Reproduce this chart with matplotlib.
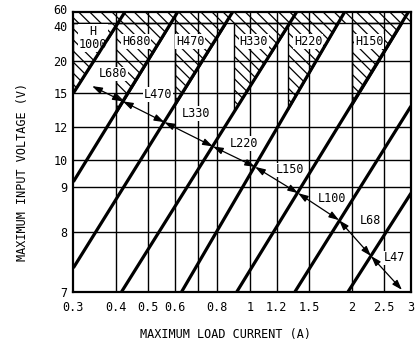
import matplotlib
matplotlib.use("Agg")
import matplotlib.pyplot as plt
import numpy as np
from matplotlib.ticker import FixedLocator, FixedFormatter, NullLocator

# graduated input-voltage scale (tick value -> fraction of axis height)
VIN_TICKS = [7, 8, 9, 10, 12, 15, 20, 40, 60]
VIN_TICK_POS = [0.0, 0.212, 0.373, 0.470, 0.589, 0.709, 0.824, 0.961, 1.0]

I_TICKS = [0.3, 0.4, 0.5, 0.6, 0.8, 1, 1.2, 1.5, 2, 2.5, 3]
I_TICK_LABELS = ["0.3", "0.4", "0.5", "0.6", "0.8", "1", "1.2", "1.5", "2", "2.5", "3"]
I_GRID = [0.4, 0.5, 0.6, 0.7, 0.8, 1, 1.2, 1.5, 2, 2.5]

# inductor region boundaries (current in A, voltage in V)
BOUND_START_I = [0.30, 0.30, 0.30, 0.417, 0.628, 0.915, 1.36, 1.953]
BOUND_START_V = [15.0, 9.2, 7.4, 7, 7, 7, 7, 7]
BOUND_END_I = [0.427, 0.612, 0.89, 1.377, 1.91, 2.95, 3.0, 3.0]
BOUND_END_V = [60, 60, 60, 60, 60, 60, 13.85, 8.87]

# high-current (hatched) regions
H_LABELS = ["H\n1000", "H680", "H470", "H330", "H220", "H150"]
H_LEFT_I = [0.3, 0.4, 0.6, 0.9, 1.3, 2.0]
H_LABEL_I = [0.343, 0.460, 0.665, 1.028, 1.486, 2.253]
H_LABEL_V = [32, 30, 30, 30, 30, 30]
H_BAND = (40, 60)

L_LABELS = ["L680", "L470", "L330", "L220", "L150", "L100", "L68", "L47"]
L_LABEL_I = [0.393, 0.534, 0.692, 0.961, 1.315, 1.751, 2.268, 2.672]
L_LABEL_V = [18.0, 14.9, 13.2, 11.0, 9.64, 8.76, 8.27, 7.57]

# double arrows between neighbouring boundaries
ARROW_I = [0.341, 0.4205, 0.558, 0.777, 1.036, 1.388, 1.836, 2.284, 2.82]
ARROW_V = [16.1, 14.27, 12.41, 10.82, 9.75, 8.87, 8.27, 7.60, 7.03]

FONT = "DejaVu Sans Mono"

_pos_ext = np.r_[-1.0, VIN_TICK_POS, 2.0]
_v_ext = np.r_[1.0, VIN_TICKS, 1000.0]


def vin_fwd(v):
    return np.interp(v, _v_ext, _pos_ext)


def vin_inv(p):
    return np.interp(p, _pos_ext, _v_ext)


def _seg(k):
    u0, u1 = np.log10(BOUND_START_I[k]), np.log10(BOUND_END_I[k])
    w0, w1 = vin_fwd(BOUND_START_V[k]), vin_fwd(BOUND_END_V[k])
    return u0, u1, w0, w1


def v_on(k, i):
    u0, u1, w0, w1 = _seg(k)
    t = (np.log10(i) - u0) / (u1 - u0)
    return float(vin_inv(w0 + t * (w1 - w0)))


def i_on(k, v):
    u0, u1, w0, w1 = _seg(k)
    t = (vin_fwd(v) - w0) / (w1 - w0)
    return float(10 ** (u0 + t * (u1 - u0)))


plt.rcParams["hatch.linewidth"] = 0.9
fig = plt.figure(figsize=(4.19, 3.47), dpi=100)
ax = fig.add_axes([0.175, 0.1594, 0.806, 0.8069])

ax.set_xscale("log")
ax.set_yscale("function", functions=(vin_fwd, vin_inv))
ax.set_xlim(0.3, 3)
ax.set_ylim(7, 60)

# hatched regions
ax.axhspan(*H_BAND, facecolor="none", edgecolor="black", hatch="\\\\\\",
           linewidth=0, zorder=1)
for k, left in enumerate(H_LEFT_I):
    vv = v_on(k, left)
    itop = i_on(k, H_BAND[0])
    ax.fill([left, left, itop], [vv, H_BAND[0], H_BAND[0]], facecolor="none",
            edgecolor="black", hatch="\\\\\\", linewidth=1.0, zorder=1)

# grid
for v in VIN_TICKS[1:-1]:
    ax.axhline(v, color="black", lw=1.0, zorder=3)
for i in I_GRID:
    ax.axvline(i, color="black", lw=1.0, zorder=3)

# boundaries
for k in range(len(BOUND_START_I)):
    ax.plot([BOUND_START_I[k], BOUND_END_I[k]], [BOUND_START_V[k], BOUND_END_V[k]],
            color="black", lw=2.3, solid_capstyle="butt", zorder=5)

box = dict(facecolor="white", edgecolor="none", pad=0.6)
for lab, i, v in zip(H_LABELS, H_LABEL_I, H_LABEL_V):
    ax.text(i, v, lab, family=FONT, fontsize=8.5, ha="center", va="center",
            linespacing=1.0, bbox=box, zorder=4)
for lab, i, v in zip(L_LABELS, L_LABEL_I, L_LABEL_V):
    ax.text(i, v, lab, family=FONT, fontsize=8.5, ha="center", va="center",
            bbox=box, zorder=4)

for k in range(len(ARROW_I) - 1):
    ax.annotate("", xy=(ARROW_I[k + 1], ARROW_V[k + 1]), xytext=(ARROW_I[k], ARROW_V[k]),
                arrowprops=dict(arrowstyle="<|-|>,head_length=0.6,head_width=0.2",
                                color="black", lw=0.9, shrinkA=0, shrinkB=0),
                zorder=6)

ax.xaxis.set_major_locator(FixedLocator(I_TICKS))
ax.xaxis.set_major_formatter(FixedFormatter(I_TICK_LABELS))
ax.xaxis.set_minor_locator(NullLocator())
ax.yaxis.set_major_locator(FixedLocator(VIN_TICKS))
# the top two labels sit too close together, they are placed by hand below
ax.yaxis.set_major_formatter(FixedFormatter(
    [str(v) if v < H_BAND[0] else "" for v in VIN_TICKS]))
ax.yaxis.set_minor_locator(NullLocator())
ax.tick_params(length=0, labelsize=8.5)
ax.tick_params(axis="x", pad=7)
ax.tick_params(axis="y", pad=4)
for t in ax.get_xticklabels() + ax.get_yticklabels():
    t.set_family(FONT)

for v, dy in ((H_BAND[0], -3.5), (H_BAND[1], 1)):
    ax.annotate(str(v), xy=(0, v), xycoords=("axes fraction", "data"),
                xytext=(-4, dy), textcoords="offset points", ha="right",
                va="center", family=FONT, fontsize=8.5)

for s in ax.spines.values():
    s.set_linewidth(1.6)
    s.set_zorder(7)

ax.set_xlabel("MAXIMUM LOAD CURRENT (A)", family=FONT, fontsize=8.5)
ax.xaxis.set_label_coords(0.452, -0.13)
ax.set_ylabel("MAXIMUM INPUT VOLTAGE (V)", family=FONT, fontsize=8.5)
ax.yaxis.set_label_coords(-0.13, 0.4275)

fig.savefig("out.png", dpi=100)
